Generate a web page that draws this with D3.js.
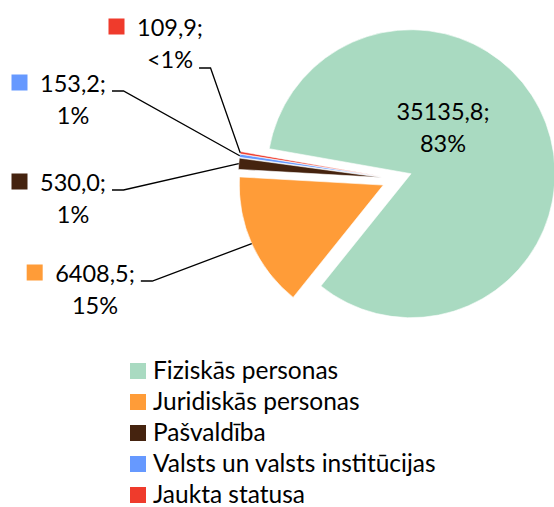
<!DOCTYPE html>
<html>
<head>
<meta charset="utf-8">
<script src="https://cdn.jsdelivr.net/npm/d3@7/dist/d3.min.js"></script>
<style>
	body { margin: 0; background: #fff; }
	text { font-family: Lato, "Open Sans", sans-serif; fill: #000; }
</style>
</head>
<body>
<div id="chart"></div>
<script>
// chart data
var categories = ["Fiziskās personas", "Juridiskās personas", "Pašvaldība", "Valsts un valsts institūcijas", "Jaukta statusa"];
var values = [35135.8, 6408.5, 530.0, 153.2, 109.9];
var percentLabels = ["83%", "15%", "1%", "1%", "<1%"];
var colors = ["#A9DAC1", "#FF9C38", "#45230F", "#6699FF", "#EF3B2C"];

// label anchors, relative to the pie centre (manually placed, like in the original)
var labelOffsets = [[46, -59], [-302, 103], [-324, 12], [-324, -87], [-227, -143]];
var leaderLine = [null, 0, 0, 0, 1]; // which text line the leader starts from

var w = 554,
	h = 507,
	cx = 397,
	cy = 179,
	radius = 144,
	explode = 15,
	labelSize = 23.5,
	legendSize = 24.5,
	lineHeight = 32,
	startAngle = 280 * Math.PI / 180;

var fmt = d3.formatLocale({decimal: ",", thousands: "", grouping: [3], currency: ["", ""]}).format(".1f");

var svg = d3.select("#chart")
	.append("svg")
	.attr("width", w)
	.attr("height", h);

var pie = d3.pie()
	.sort(null)
	.value(function(d) { return d; })
	.startAngle(startAngle)
	.endAngle(startAngle + 2 * Math.PI);

var arcs = pie(values);

var arc = d3.arc()
	.innerRadius(0)
	.outerRadius(radius);

function midAngle(d) { return (d.startAngle + d.endAngle) / 2; }

function shift(d) {
	var a = midAngle(d);
	return [cx + explode * Math.sin(a), cy - explode * Math.cos(a)];
}

svg.append("g").selectAll("path")
	.data(arcs)
	.enter().append("path")
	.attr("d", arc)
	.attr("transform", function(d) {
		var p = shift(d);
		return "translate(" + p[0] + "," + p[1] + ")";
	})
	.attr("fill", function(d, i) { return colors[i]; })
	.attr("stroke", "#fff")
	.attr("stroke-width", 0.6);

// data labels
var labels = svg.append("g").selectAll("g")
	.data(arcs)
	.enter().append("g")
	.attr("transform", function(d, i) {
		return "translate(" + (cx + labelOffsets[i][0]) + "," + (cy + labelOffsets[i][1]) + ")";
	});

labels.append("text")
	.attr("class", "l1")
	.attr("text-anchor", "middle")
	.attr("font-size", labelSize + "px")
	.text(function(d) { return fmt(d.value) + ";"; });

labels.append("text")
	.attr("class", "l2")
	.attr("text-anchor", "middle")
	.attr("y", lineHeight)
	.attr("font-size", labelSize + "px")
	.text(function(d, i) { return percentLabels[i]; });

labels.each(function(d, i) {
	if (i == 0) return;
	var g = d3.select(this);
	var t1 = g.select(".l1").node().getComputedTextLength();
	var t2 = g.select(".l2").node().getComputedTextLength();
	// legend key in front of the value
	g.append("rect")
		.attr("x", -t1 / 2 - 12.5 - 16)
		.attr("y", -17.5)
		.attr("width", 16)
		.attr("height", 16)
		.attr("fill", colors[i]);

	// leader line
	var off = labelOffsets[i];
	var lx = (leaderLine[i] ? t2 : t1) / 2 + 6;
	var ly = leaderLine[i] ? lineHeight : -1;
	var a = midAngle(d), p = shift(d);
	var ex = p[0] + radius * Math.sin(a) - cx - off[0],
		ey = p[1] - radius * Math.cos(a) - cy - off[1];
	g.append("polyline")
		.attr("points", [[lx, ly], [lx + 11.5, ly], [ex, ey]].join(" "))
		.attr("fill", "none")
		.attr("stroke", "#000")
		.attr("stroke-width", 1.3);
});

// legend
var legend = svg.append("g")
	.attr("transform", "translate(130,363)")
	.selectAll("g")
	.data(categories)
	.enter().append("g")
	.attr("transform", function(d, i) { return "translate(0," + (i * 31) + ")"; });

legend.append("rect")
	.attr("width", 16)
	.attr("height", 16)
	.attr("fill", function(d, i) { return colors[i]; });

legend.append("text")
	.attr("x", 23)
	.attr("y", 16)
	.attr("font-size", legendSize + "px")
	.text(function(d) { return d; });
</script>
</body>
</html>
